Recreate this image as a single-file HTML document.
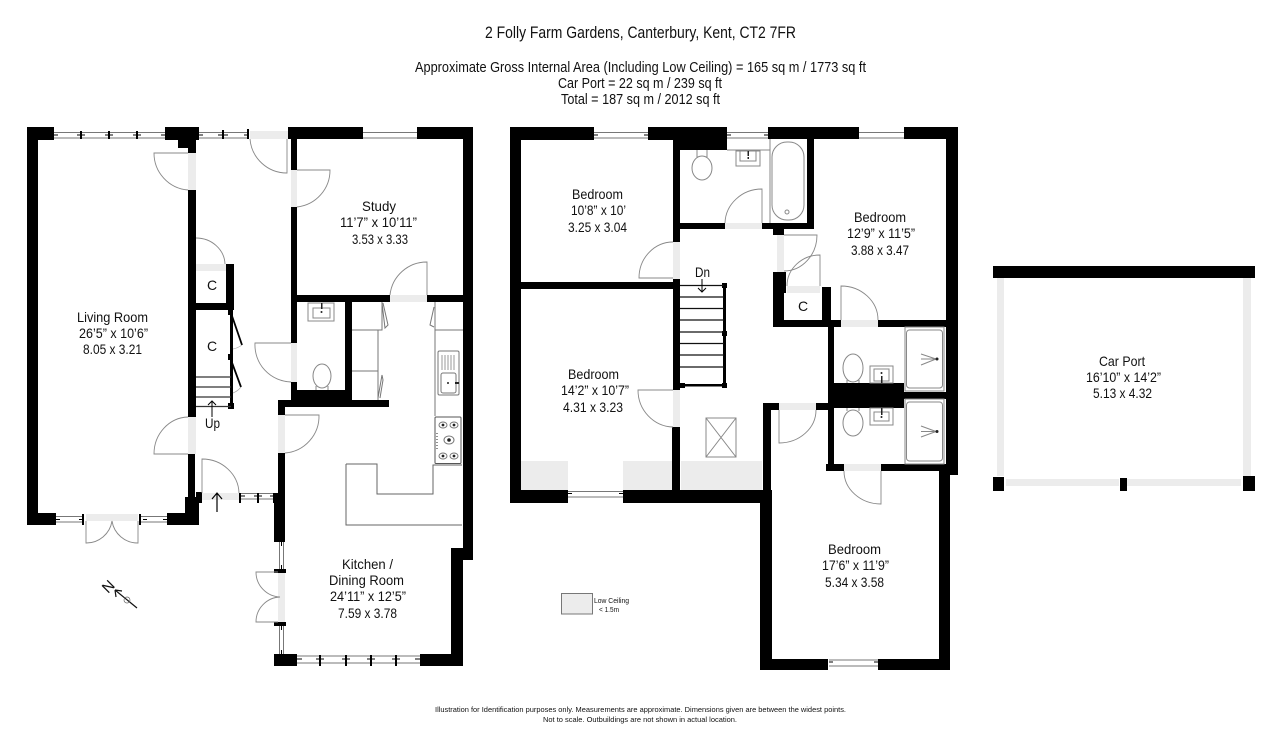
<!DOCTYPE html>
<html><head><meta charset="utf-8"><style>
html,body{margin:0;padding:0;background:#fff;width:1280px;height:741px;overflow:hidden}
svg{display:block}
text{font-family:"Liberation Sans",sans-serif;fill:#111;font-size:14px}
</style></head><body>
<svg width="1280" height="741" viewBox="0 0 1280 741" xmlns="http://www.w3.org/2000/svg">
<rect width="1280" height="741" fill="#fff"/>

<!-- grey areas: door openings and low ceiling -->
<g fill="#ececec">
<rect x="188" y="153" width="8" height="37"/><rect x="250" y="131" width="38" height="8"/><rect x="291" y="170" width="6" height="37"/>
<rect x="196" y="264" width="30" height="7"/><rect x="291" y="343" width="6" height="39"/><rect x="188" y="417" width="8" height="37"/>
<rect x="278" y="415" width="7" height="38"/><rect x="202" y="493" width="37" height="7"/><rect x="86" y="514" width="52" height="7"/>
<rect x="278" y="573" width="7" height="49"/><rect x="390" y="295" width="37" height="7"/>
<rect x="673" y="242" width="7" height="37"/><rect x="673" y="390" width="7" height="37"/><rect x="725" y="223" width="37" height="6"/>
<rect x="777" y="235" width="7" height="37"/><rect x="787" y="286" width="33" height="7"/><rect x="841" y="320" width="37" height="7"/>
<rect x="779" y="403" width="37" height="7"/><rect x="844" y="464" width="37" height="7"/>
<rect x="521" y="461" width="47" height="29"/><rect x="623" y="461" width="49" height="29"/><rect x="681" y="461" width="81" height="31"/>
<rect x="997" y="278" width="7" height="198"/><rect x="1243" y="278" width="8" height="198"/>
<rect x="1006" y="479" width="113" height="7"/><rect x="1127" y="479" width="114" height="7"/>
</g>

<!-- walls -->
<g fill="#000">
<rect x="27" y="127" width="27" height="13"/><rect x="27" y="127" width="11" height="398"/><rect x="27" y="513" width="29" height="12"/>
<rect x="165" y="127" width="34" height="13"/><rect x="178" y="140" width="18" height="8"/><rect x="188" y="148" width="8" height="5"/>
<rect x="188" y="190" width="8" height="227"/><rect x="188" y="454" width="7" height="44"/><rect x="185" y="497" width="14" height="16"/>
<rect x="196" y="492" width="6" height="11"/><rect x="167" y="513" width="32" height="12"/>
<rect x="226" y="264" width="8" height="39"/><rect x="195" y="303" width="39" height="7"/><rect x="230" y="303" width="3" height="102"/>
<rect x="228" y="310" width="5" height="5"/><rect x="228" y="354" width="5" height="6"/><rect x="228" y="403" width="6" height="6"/>
<rect x="288" y="127" width="75" height="12"/><rect x="417" y="127" width="56" height="12"/><rect x="463" y="127" width="10" height="433"/>
<rect x="291" y="139" width="6" height="31"/><rect x="291" y="207" width="6" height="136"/><rect x="291" y="382" width="6" height="18"/>
<rect x="291" y="295" width="99" height="7"/><rect x="427" y="295" width="36" height="7"/><rect x="345" y="302" width="7" height="98"/>
<rect x="291" y="390" width="61" height="10"/><rect x="278" y="400" width="111" height="7"/><rect x="278" y="407" width="7" height="8"/>
<rect x="278" y="453" width="7" height="40"/><rect x="274" y="493" width="11" height="49"/>
<rect x="451" y="548" width="22" height="12"/><rect x="451" y="548" width="12" height="118"/>
<rect x="274" y="654" width="23" height="12"/><rect x="420" y="654" width="43" height="12"/>
<rect x="274" y="569" width="12" height="4"/><rect x="274" y="622" width="12" height="4"/>

<rect x="510" y="127" width="84" height="13"/><rect x="510" y="127" width="11" height="376"/><rect x="510" y="490" width="58" height="13"/>
<rect x="623" y="490" width="149" height="13"/><rect x="648" y="127" width="79" height="13"/><rect x="673" y="140" width="54" height="10"/>
<rect x="673" y="140" width="7" height="102"/><rect x="673" y="279" width="7" height="111"/><rect x="672" y="427" width="8" height="63"/>
<rect x="521" y="282" width="152" height="7"/><rect x="678" y="223" width="47" height="6"/><rect x="762" y="223" width="52" height="6"/>
<rect x="807" y="139" width="7" height="90"/><rect x="768" y="127" width="91" height="12"/><rect x="904" y="127" width="54" height="12"/>
<rect x="946" y="127" width="12" height="348"/><rect x="773" y="229" width="11" height="6"/><rect x="773" y="272" width="11" height="55"/>
<rect x="773" y="320" width="68" height="7"/><rect x="782" y="272" width="4" height="21"/><rect x="822" y="287" width="9" height="33"/>
<rect x="878" y="320" width="68" height="7"/><rect x="828" y="327" width="6" height="143"/><rect x="826" y="464" width="18" height="7"/>
<rect x="881" y="464" width="65" height="7"/><rect x="939" y="464" width="11" height="206"/><rect x="946" y="464" width="12" height="11"/>
<rect x="828" y="383" width="76" height="25"/><rect x="903" y="392" width="43" height="7"/>
<rect x="763" y="403" width="16" height="7"/><rect x="816" y="403" width="12" height="7"/><rect x="763" y="403" width="8" height="100"/>
<rect x="760" y="490" width="12" height="180"/><rect x="760" y="659" width="68" height="11"/><rect x="878" y="659" width="72" height="11"/>
<!-- stairs -->
<rect x="723" y="285" width="3" height="100"/><rect x="722" y="283" width="5" height="5"/><rect x="722" y="331" width="5" height="5"/>
<rect x="722" y="383" width="5" height="5"/><rect x="680" y="383" width="5" height="5"/><rect x="680" y="384" width="45" height="2.5"/>
<!-- car port -->
<rect x="993" y="266" width="262" height="12"/><rect x="993" y="477" width="11" height="14"/><rect x="1243" y="476" width="12" height="15"/><rect x="1120" y="478" width="7" height="13"/>
</g>

<!-- stair treads -->
<g stroke="#111" stroke-width="1.2" fill="none">
<path d="M680 285.5H724M680 297H724M680 308.5H724M680 320H724M680 332H724M680 343.5H724M680 355H724M680 367H724"/>
<path d="M196 377H231M196 387H231M196 397H231M196 406.5H231" stroke="#333"/>
</g>
<g stroke="#000" stroke-width="1.8" fill="none">
<path d="M231 313L242 345M231 360L241 387"/>
</g>
<path d="M242 345Q238 348 233 349M241 387Q238 391 233 393" stroke="#aaa" stroke-width=".7" fill="none"/>

<!-- windows -->
<g stroke="#777" stroke-width="1" fill="none">
<path d="M54 132.5H165M54 138H165M199 132.5H248M199 138H248"/>
<path d="M594 132.5H648M594 138H648M727 132.5H768M727 138H768M859 132.5H904M859 138H904"/>
<path d="M363 132.5H417M363 138H417"/>
<path d="M56 516.5H83M56 522H83M141 516.5H167M141 522H167"/>
<path d="M241 493.5H274M241 499H274"/>
<path d="M297 656H420M297 663H420"/>
<path d="M568 491.5H623M568 497H623M829 660H878M829 666H878"/>
<path d="M279.5 542V569M283.5 542V569M279.5 626V654M283.5 626V654"/>
</g>
<g stroke="#000" fill="none">
<path stroke-width="2" d="M81 131V139M109 131V139M137 131V139M223 130V139M248 129V139M83 514V525M140 514V525M240 493V503M258 493V503M274 493V503M320 655V666M346 655V666M371 655V666M396 655V666" />
<path stroke-width="1" d="M77 135H85M105 135H113M133 135H141M54 135H58M161 135H165M199 135H203M218 135H228M244 135H248M56 519.5H60M163 519.5H167M143 519.5H147M79 519.5H83M241 496H245M254 496H262M270 496H274M297 659H302M316 659H324M342 659H350M367 659H375M392 659H400M415 659H420M568 493.5H572M619 493.5H623M829 662H833M874 662H878M727 135H731M764 135H768M594 135H598M644 135H648M281.5 542V546M281.5 565V569M281.5 626V630M281.5 650V654"/>
</g>

<!-- doors -->
<g stroke="#888" stroke-width=".9" fill="none">
<path d="M188 153H154A37 37 0 0 0 188 190"/>
<path d="M287 139V173A37 37 0 0 1 250 139"/>
<path d="M297 170H330A37 37 0 0 1 297 207"/>
<path d="M196 238A29 27 0 0 1 225 264"/>
<path d="M291 343H255A37 37 0 0 0 291 382"/>
<path d="M188 417A35 37 0 0 0 154 454H188"/>
<path d="M285 415H319A37 37 0 0 1 285 453"/>
<path d="M202 493V459A37 35 0 0 1 239 493"/>
<path d="M86 521V543A26 26 0 0 0 112 521M138 521V543A26 26 0 0 1 112 521"/>
<path d="M278 572H256A25 25 0 0 0 280 597A25 25 0 0 0 256 622H278"/>
<path d="M390 295A37 37 0 0 1 427 262V295"/>
<path d="M673 242A34 36 0 0 0 639 278H673"/>
<path d="M673 390H638A36 37 0 0 0 673 427"/>
<path d="M725 223A37 35 0 0 1 762 189V223"/>
<path d="M784 235H817A33 36 0 0 1 784 271"/>
<path d="M820 286V255A33 31 0 0 0 787 286"/>
<path d="M841 320V286A37 34 0 0 1 878 320"/>
<path d="M779 410V443A37 33 0 0 0 816 410"/>
<path d="M881 471V504A37 33 0 0 1 844 471"/>
</g>
<!-- entry and stair arrows -->
<g stroke="#000" fill="none">
<path stroke-width="1.2" d="M217 512V493M212 499L217 493L222 499"/>
<path stroke-width="1" d="M212 417V401M208 405L212 401L216 405"/>
<path stroke-width="1" d="M702 279V292M698 288L702 292L706 288"/>
</g>

<!-- kitchen fittings -->
<g stroke="#777" stroke-width="1" fill="none">
<path d="M352 330H382V302M378 330V371M352 371H378V400M382 303L385 328L388 325L383 303M382 375L378 398M382 375L383 380L380 398"/>
<path d="M435 302V416M435 330H463M434 307L430 325L434 327"/>
<path stroke="#666" d="M346 464H377V494H433V465H462M346 464V525H462"/>
<rect x="438" y="351" width="21" height="44" rx="1.5"/><rect x="441" y="373" width="15" height="20" rx="2"/>
<path d="M442 355V370M445 355V370M448 355V370M451 355V370M454 355V370" stroke="#999"/>
<rect x="435" y="417" width="26" height="46.5" rx="1" stroke="#555"/>
<ellipse cx="443" cy="425" rx="4" ry="3"/><ellipse cx="454" cy="425" rx="4" ry="3"/><ellipse cx="449" cy="440" rx="5" ry="4"/><ellipse cx="443" cy="456" rx="4" ry="3"/><ellipse cx="454" cy="456" rx="4" ry="3"/>
</g>
<g fill="#222"><circle cx="443" cy="425" r="1.4"/><circle cx="454" cy="425" r="1.4"/><circle cx="449" cy="440" r="1.8"/><circle cx="443" cy="456" r="1.4"/><circle cx="454" cy="456" r="1.4"/>
<circle cx="448" cy="383" r="1"/><rect x="455" y="382" width="4" height="2"/>
<rect x="436.5" y="433" width="1" height="1"/><rect x="436.5" y="436" width="1" height="1"/><rect x="436.5" y="439" width="1" height="1"/><rect x="436.5" y="442" width="1" height="1"/><rect x="436.5" y="445" width="1" height="1"/><rect x="436.5" y="448" width="1" height="1"/></g>

<!-- sanitary -->
<g stroke="#888" stroke-width="1" fill="none">
<ellipse cx="322" cy="376" rx="9" ry="12"/><path d="M316 386V390M328 386V390"/>
<rect x="308" y="303" width="26" height="18"/><rect x="313" y="308" width="17" height="10"/>
<ellipse cx="702" cy="168" rx="10" ry="12"/><path d="M697 150V157M707 150V157"/>
<rect x="736" y="151" width="24" height="15"/><rect x="740" y="151" width="16" height="10"/>
<path d="M770 139V223M727 150H770"/><rect x="772" y="142" width="32" height="78" rx="15"/><circle cx="787" cy="212" r="2"/>
<ellipse cx="853" cy="368" rx="10" ry="14"/><path d="M847 380V383M859 380V383"/>
<rect x="870" y="366" width="23" height="17"/><rect x="874" y="369" width="15" height="12"/>
<ellipse cx="853" cy="423" rx="10" ry="13"/><path d="M847 408V411M859 408V411"/>
<rect x="870" y="408" width="23" height="17"/><rect x="874" y="412" width="15" height="9"/>
<rect x="905" y="327" width="39" height="64"/><rect x="906.5" y="330" width="36" height="58" rx="3"/>
<rect x="905" y="399" width="39" height="65"/><rect x="906.5" y="402" width="36" height="59" rx="3"/>
<path d="M921 354L936 359M921 359H936M921 365L936 359M921 426L936 431.5M921 431.5H936M921 437L936 431.5"/>
<rect x="706" y="418" width="30" height="39"/><path d="M706 418L736 457M736 418L706 457"/>
</g>
<g fill="#222"><circle cx="937" cy="359" r="1.5"/><circle cx="937" cy="431.5" r="1.5"/><rect x="321" y="303" width="1.5" height="6"/><circle cx="321.5" cy="312" r="1"/><rect x="747.5" y="151" width="1.5" height="5"/><rect x="747.5" y="157" width="1.5" height="2"/><rect x="881" y="376" width="1.5" height="7"/><circle cx="881.5" cy="373" r="1"/><rect x="881" y="408" width="1.5" height="7"/><circle cx="881.5" cy="417" r="1"/></g>

<!-- legend and compass -->
<rect x="561.5" y="593.5" width="31" height="20.5" fill="#ececec" stroke="#777"/>
<g stroke="#111" fill="none"><path stroke-width="1.2" d="M137 608L115 590M115 590L122 591M115 590L116 597"/><circle cx="127" cy="600" r="3" stroke-width=".7" stroke="#666"/></g>
<text transform="translate(108 594) rotate(-45)" style="font-size:15px" textLength="11" lengthAdjust="spacingAndGlyphs">N</text>

<!-- header -->
<text x="485" y="38" textLength="311" lengthAdjust="spacingAndGlyphs" style="font-size:17px">2 Folly Farm Gardens, Canterbury, Kent, CT2 7FR</text>
<text x="415" y="72" textLength="451" lengthAdjust="spacingAndGlyphs" style="font-size:15px">Approximate Gross Internal Area (Including Low Ceiling) = 165 sq m / 1773 sq ft</text>
<text x="558" y="88" textLength="164" lengthAdjust="spacingAndGlyphs" style="font-size:15px">Car Port = 22 sq m / 239 sq ft</text>
<text x="561" y="104" textLength="159" lengthAdjust="spacingAndGlyphs" style="font-size:15px">Total = 187 sq m / 2012 sq ft</text>

<!-- room labels -->
<text x="77" y="322" textLength="71" lengthAdjust="spacingAndGlyphs">Living Room</text>
<text x="79" y="338" textLength="69" lengthAdjust="spacingAndGlyphs">26’5” x 10’6”</text>
<text x="83" y="354" textLength="59" lengthAdjust="spacingAndGlyphs">8.05 x 3.21</text>
<text x="362" y="211" textLength="34" lengthAdjust="spacingAndGlyphs">Study</text>
<text x="340" y="227" textLength="77" lengthAdjust="spacingAndGlyphs">11’7” x 10’11”</text>
<text x="352" y="244" textLength="56" lengthAdjust="spacingAndGlyphs">3.53 x 3.33</text>
<text x="207" y="290">C</text><text x="207" y="351">C</text><text x="798" y="311">C</text>
<text x="205" y="428" textLength="15" lengthAdjust="spacingAndGlyphs">Up</text>
<text x="695" y="277" textLength="15" lengthAdjust="spacingAndGlyphs">Dn</text>
<text x="342" y="569" textLength="51" lengthAdjust="spacingAndGlyphs">Kitchen /</text>
<text x="329" y="585" textLength="75" lengthAdjust="spacingAndGlyphs">Dining Room</text>
<text x="330" y="601" textLength="76" lengthAdjust="spacingAndGlyphs">24’11” x 12’5”</text>
<text x="338" y="618" textLength="59" lengthAdjust="spacingAndGlyphs">7.59 x 3.78</text>
<text x="572" y="199" textLength="51" lengthAdjust="spacingAndGlyphs">Bedroom</text>
<text x="571" y="215" textLength="55" lengthAdjust="spacingAndGlyphs">10’8” x 10’</text>
<text x="568" y="232" textLength="59" lengthAdjust="spacingAndGlyphs">3.25 x 3.04</text>
<text x="568" y="379" textLength="51" lengthAdjust="spacingAndGlyphs">Bedroom</text>
<text x="561" y="395" textLength="68" lengthAdjust="spacingAndGlyphs">14’2” x 10’7”</text>
<text x="563" y="412" textLength="60" lengthAdjust="spacingAndGlyphs">4.31 x 3.23</text>
<text x="854" y="222" textLength="52" lengthAdjust="spacingAndGlyphs">Bedroom</text>
<text x="847" y="238" textLength="68" lengthAdjust="spacingAndGlyphs">12’9” x 11’5”</text>
<text x="851" y="255" textLength="58" lengthAdjust="spacingAndGlyphs">3.88 x 3.47</text>
<text x="828" y="554" textLength="53" lengthAdjust="spacingAndGlyphs">Bedroom</text>
<text x="822" y="570" textLength="67" lengthAdjust="spacingAndGlyphs">17’6” x 11’9”</text>
<text x="825" y="587" textLength="59" lengthAdjust="spacingAndGlyphs">5.34 x 3.58</text>
<text x="1099" y="366" textLength="46" lengthAdjust="spacingAndGlyphs">Car Port</text>
<text x="1086" y="382" textLength="75" lengthAdjust="spacingAndGlyphs">16’10” x 14’2”</text>
<text x="1093" y="398" textLength="59" lengthAdjust="spacingAndGlyphs">5.13 x 4.32</text>
<text x="594" y="603" textLength="35" lengthAdjust="spacingAndGlyphs" style="font-size:7px">Low Ceiling</text>
<text x="599" y="612" textLength="20" lengthAdjust="spacingAndGlyphs" style="font-size:7px">&lt; 1.5m</text>

<!-- footer -->
<text x="435" y="712" textLength="411" lengthAdjust="spacingAndGlyphs" style="font-size:7.5px">Illustration for Identification purposes only.  Measurements are approximate. Dimensions given are between the widest points.</text>
<text x="543" y="722" textLength="194" lengthAdjust="spacingAndGlyphs" style="font-size:7.5px">Not to scale.  Outbuildings are not shown in actual location.</text>
</svg>
</body></html>
